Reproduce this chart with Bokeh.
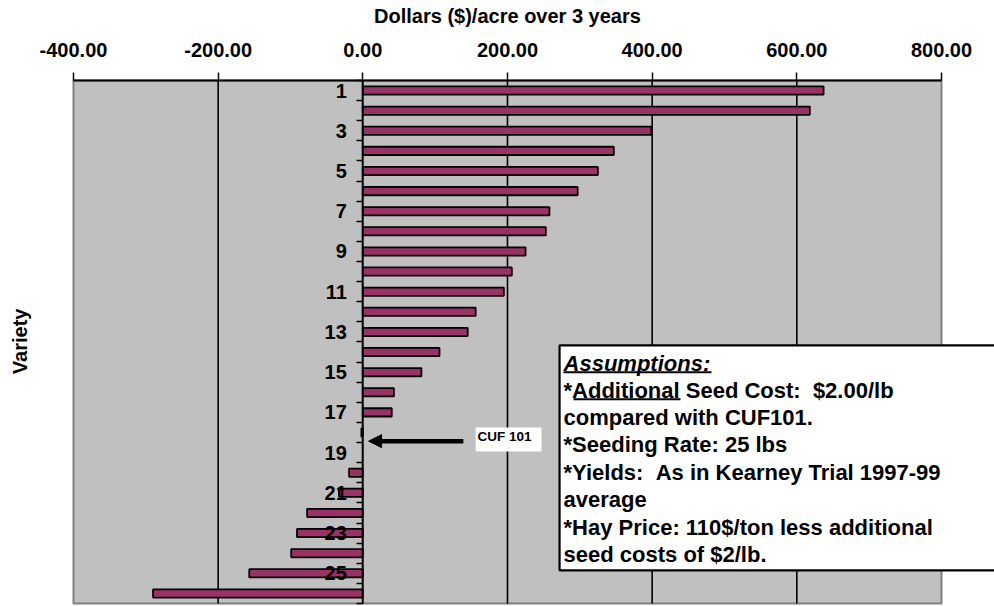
import math
from bokeh.plotting import figure
from bokeh.models import (LinearAxis, FixedTicker, NumeralTickFormatter, Range1d,
                          BoxAnnotation, Label, Arrow, NormalHead, ColumnDataSource)
from bokeh.embed import file_html
from bokeh.resources import INLINE

# ---- data ----
varieties = list(range(1, 27))
values = [637, 618, 399, 347, 325, 297, 258, 253, 225, 206, 195, 156, 145, 106, 81, 43, 40,
          -2, 0, -19, -33, -77, -91, -99, -157, -290]
x_ticks = [-400, -200, 0, 200, 400, 600, 800]
y_label_ticks = [1, 3, 5, 7, 9, 11, 13, 15, 17, 19, 21, 23, 25]
x_title = "Dollars ($)/acre over 3 years"
y_title = "Variety"
check_label = "CUF 101"
NB = "\u00a0"
note_lines = [
    "Assumptions:",
    "*Additional Seed Cost: " + NB + "$2.00/lb",
    "compared with CUF101.",
    "*Seeding Rate: 25 lbs",
    "*Yields: " + NB + "As in Kearney Trial 1997-99",
    "average",
    "*Hay Price: 110$/ton less additional",
    "seed costs of $2/lb.",
]

FONT = "Liberation Sans"
X0, X1 = x_ticks[0], x_ticks[-1]
Y0, Y1 = 0.5, len(varieties) + 0.5

p = figure(width=994, height=606, output_backend="svg", toolbar_location=None,
           x_range=Range1d(-500.9, 873.3), y_range=Range1d(26.65, -3.476),
           x_axis_type=None, y_axis_type=None,
           min_border_left=0, min_border_right=0, min_border_bottom=0, min_border_top=0)
p.background_fill_color = "white"
p.border_fill_color = "white"
p.outline_line_color = None
p.xgrid.visible = False
p.ygrid.visible = False

# plot area background
bg = BoxAnnotation(left=X0, right=X1, top=Y0, bottom=Y1, fill_color="#C0C0C0", fill_alpha=1,
                   line_color="#808080", line_alpha=1, line_width=2, level="underlay")
p.add_layout(bg)

# vertical grid lines (interior ticks)
gx = x_ticks[1:-1]
p.segment(x0=gx, x1=gx, y0=[Y0] * len(gx), y1=[Y1] * len(gx),
          line_color="black", line_width=1.6)

# bars
src = ColumnDataSource(data=dict(
    y=[v for v, x in zip(varieties, values) if x != 0],
    right=[x for x in values if x != 0],
))
p.hbar(y="y", left=0, right="right", height=0.41, source=src,
       fill_color="#993366", line_color="black", line_width=1.8)

# top value axis, pinned at the top of the plot area
xaxis = LinearAxis(ticker=FixedTicker(ticks=x_ticks),
                   formatter=NumeralTickFormatter(format="0.00"),
                   fixed_location=Y0, bounds=(X0, X1))
xaxis.axis_line_color = "black"
xaxis.axis_line_width = 2
xaxis.major_tick_line_color = "black"
xaxis.major_tick_line_width = 1.5
xaxis.major_tick_out = 8
xaxis.major_tick_in = 0
xaxis.minor_tick_line_color = None
xaxis.major_label_standoff = 15
xaxis.major_label_text_font = FONT
xaxis.major_label_text_font_style = "bold"
xaxis.major_label_text_font_size = "20px"
xaxis.major_label_text_color = "black"
p.add_layout(xaxis, "above")

# category axis at x = 0
yaxis = LinearAxis(ticker=FixedTicker(ticks=y_label_ticks,
                                      minor_ticks=[v + 0.5 for v in [0] + varieties]),
                   fixed_location=0, bounds=(Y0, Y1))
yaxis.axis_line_color = "black"
yaxis.axis_line_width = 1.6
yaxis.major_tick_out = 0
yaxis.major_tick_in = 0
yaxis.minor_tick_out = 6
yaxis.minor_tick_in = 0
yaxis.minor_tick_line_color = "black"
yaxis.minor_tick_line_width = 1.5
yaxis.major_label_standoff = 10
yaxis.major_label_text_font = FONT
yaxis.major_label_text_font_style = "bold"
yaxis.major_label_text_font_size = "20px"
yaxis.major_label_text_color = "black"
p.add_layout(yaxis, "left")

# titles
p.add_layout(Label(x=(X0 + X1) / 2, y=-2.72, text=x_title, text_color="black",
                   text_font=FONT, text_font_style="bold", text_font_size="20px",
                   text_align="center", text_baseline="middle"))
p.add_layout(Label(x=-474.6, y=13.47, text=y_title, angle=math.pi / 2, text_color="black",
                   text_font=FONT, text_font_style="bold", text_font_size="20px",
                   text_align="center", text_baseline="middle"))

# CUF 101 callout
p.add_layout(BoxAnnotation(left=156, right=247, top=17.75, bottom=18.94,
                           fill_color="white", fill_alpha=1, line_color=None))
p.add_layout(Label(x=158.6, y=18.22, text=check_label, text_font=FONT, text_color="black",
                   text_font_style="bold", text_font_size="13.5px",
                   text_baseline="middle", text_align="left"))
p.add_layout(Arrow(x_start=139, y_start=18.43, x_end=8, y_end=18.43,
                   line_width=4.5, line_color="black",
                   end=NormalHead(size=13, fill_color="black", line_color="black")))

# assumptions box
p.add_layout(BoxAnnotation(left=272, right=1000, top=13.67, bottom=24.85,
                           fill_color="white", fill_alpha=1,
                           line_color="black", line_alpha=1, line_width=2.2))
line_y = [14.57, 15.91, 17.27, 18.62, 19.97, 21.35, 22.70, 24.05]
for i, (txt, yy) in enumerate(zip(note_lines, line_y)):
    p.add_layout(Label(x=277.5, y=yy, text=txt, text_font=FONT,
                       text_font_style="bold italic" if i == 0 else "bold",
                       text_font_size="22px", text_baseline="middle",
                       text_align="left", text_color="black"))
# underlines
ul = p.segment(x0=[277.5, 291.3], y0=[15.01, 16.35], x1=[482, 439.2], y1=[15.01, 16.35],
               line_color="black", line_width=2)
ul.level = "overlay"

open("out.html", "w").write(file_html(p, INLINE))
